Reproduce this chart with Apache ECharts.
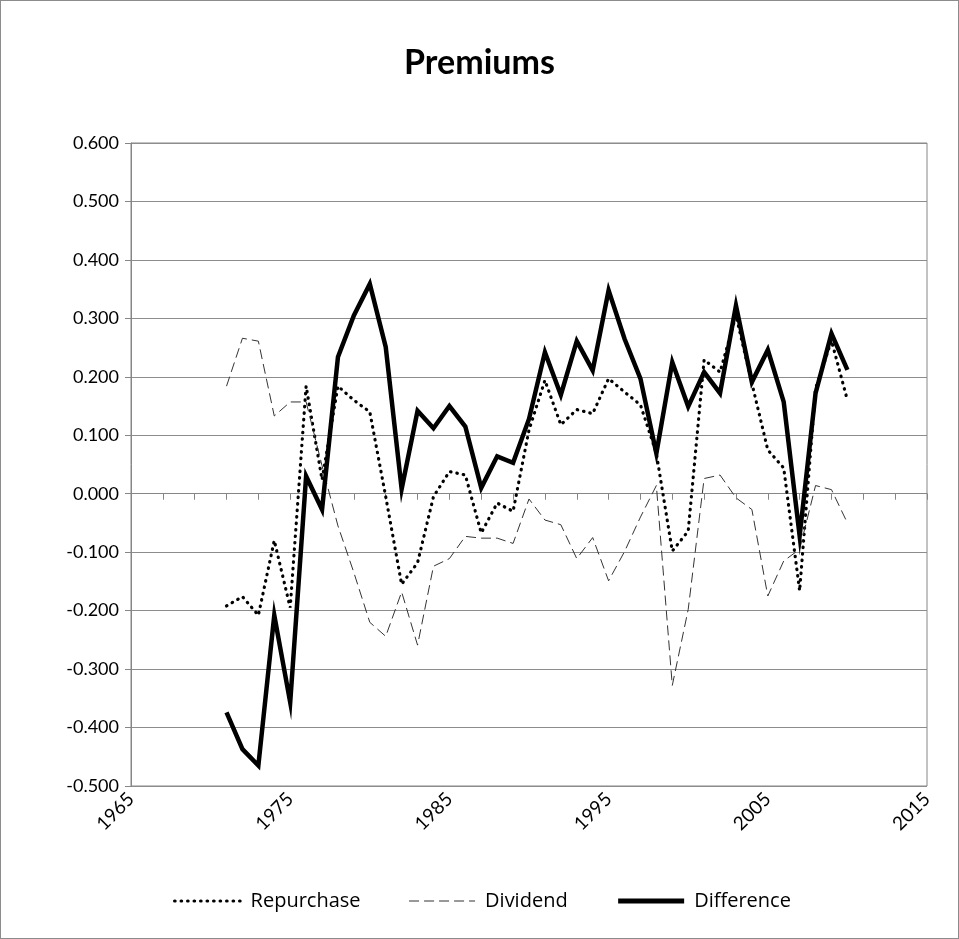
<!DOCTYPE html>
<html>
<head>
<meta charset="utf-8">
<script src="https://cdn.jsdelivr.net/npm/echarts@6/dist/echarts.min.js"></script>
<style>
  html, body { margin: 0; padding: 0; background: #fff; }
  #main { width: 959px; height: 939px; box-sizing: border-box; border: 1px solid #8c8c8c; }
</style>
</head>
<body>
<div id="main"></div>
<script>
// years 1971-2010
const years = [1971, 1972, 1973, 1974, 1975, 1976, 1977, 1978, 1979, 1980,
  1981, 1982, 1983, 1984, 1985, 1986, 1987, 1988, 1989, 1990,
  1991, 1992, 1993, 1994, 1995, 1996, 1997, 1998, 1999, 2000,
  2001, 2002, 2003, 2004, 2005, 2006, 2007, 2008, 2009, 2010];

const repurchase = [-0.192, -0.176, -0.208, -0.080, -0.195, 0.184, 0.024, 0.184, 0.160, 0.140,
  -0.005, -0.155, -0.118, -0.005, 0.038, 0.032, -0.067, -0.016, -0.030, 0.109,
  0.194, 0.118, 0.144, 0.137, 0.197, 0.174, 0.152, 0.069, -0.098, -0.064,
  0.229, 0.208, 0.305, 0.189, 0.075, 0.044, -0.166, 0.180, 0.262, 0.160];

const dividend = [0.184, 0.266, 0.261, 0.133, 0.157, 0.157, 0.048, -0.055, -0.135, -0.220,
  -0.244, -0.168, -0.259, -0.124, -0.111, -0.073, -0.076, -0.076, -0.085, -0.009,
  -0.045, -0.053, -0.111, -0.075, -0.149, -0.099, -0.040, 0.014, -0.328, -0.198,
  0.026, 0.032, -0.007, -0.027, -0.175, -0.115, -0.095, 0.014, 0.007, -0.050];

const difference = [-0.374, -0.437, -0.465, -0.208, -0.357, 0.030, -0.027, 0.234, 0.305, 0.359,
  0.251, 0.008, 0.142, 0.112, 0.150, 0.115, 0.010, 0.064, 0.053, 0.128,
  0.242, 0.169, 0.261, 0.211, 0.348, 0.265, 0.197, 0.069, 0.225, 0.149,
  0.208, 0.172, 0.322, 0.191, 0.246, 0.157, -0.072, 0.172, 0.274, 0.212];

const pairs = (vals) => years.map((y, i) => [y, vals[i]]);

const chart = echarts.init(document.getElementById('main'));
const font = 'Lato, "Open Sans", sans-serif';

const dotted = { color: '#000', width: 3.2, type: [0.5, 6], cap: 'round' };
const dashed = { color: '#333', width: 1, type: [10, 5] };
const solid = { color: '#000', width: 4.5, join: 'miter' };

chart.setOption({
  animation: false,
  title: {
    text: 'Premiums',
    left: 'center',
    top: 40,
    textStyle: { fontFamily: font, fontSize: 34, fontWeight: 'bold', color: '#000' }
  },
  grid: {
    left: 130, right: 31, top: 142, bottom: 152,
    show: true, borderColor: '#868686', borderWidth: 1
  },
  legend: {
    bottom: 22,
    left: 167,
    itemWidth: 66,
    itemHeight: 14,
    itemGap: 48,
    itemStyle: { opacity: 0 },
    textStyle: { fontFamily: '"Open Sans", sans-serif', fontSize: 20, color: '#000', padding: [0, 0, 0, 5] },
    data: [
      { name: 'Repurchase', lineStyle: dotted },
      { name: 'Dividend', lineStyle: dashed },
      { name: 'Difference', lineStyle: { color: '#000', width: 5 } }
    ]
  },
  xAxis: {
    type: 'value',
    min: 1965, max: 2015, interval: 10,
    axisLine: { lineStyle: { color: '#868686' } },
    axisTick: { show: true, length: 6, lineStyle: { color: '#868686' } },
    minorTick: { show: true, splitNumber: 5, length: 6, lineStyle: { color: '#868686' } },
    splitLine: { show: false },
    axisLabel: {
      rotate: 45, fontFamily: font, fontSize: 19, color: '#000', margin: 10,
      formatter: (v) => String(v)
    }
  },
  yAxis: {
    type: 'value',
    min: -0.5, max: 0.6, interval: 0.1,
    axisLine: { show: true, lineStyle: { color: '#868686' } },
    axisTick: { show: true, length: 6, lineStyle: { color: '#868686' } },
    splitLine: { lineStyle: { color: '#8c8c8c', width: 1 } },
    axisLabel: {
      fontFamily: font, fontSize: 18, color: '#000', margin: 12,
      formatter: (v) => v.toFixed(3)
    }
  },
  series: [
    {
      name: 'Repurchase', type: 'line', data: pairs(repurchase),
      showSymbol: false, symbol: 'none',
      lineStyle: dotted,
      itemStyle: { color: '#000' }
    },
    {
      name: 'Dividend', type: 'line', data: pairs(dividend),
      showSymbol: false, symbol: 'none',
      lineStyle: dashed,
      itemStyle: { color: '#333' }
    },
    {
      name: 'Difference', type: 'line', data: pairs(difference),
      showSymbol: false, symbol: 'none',
      lineStyle: solid,
      itemStyle: { color: '#000' }
    }
  ]
});
</script>
</body>
</html>
